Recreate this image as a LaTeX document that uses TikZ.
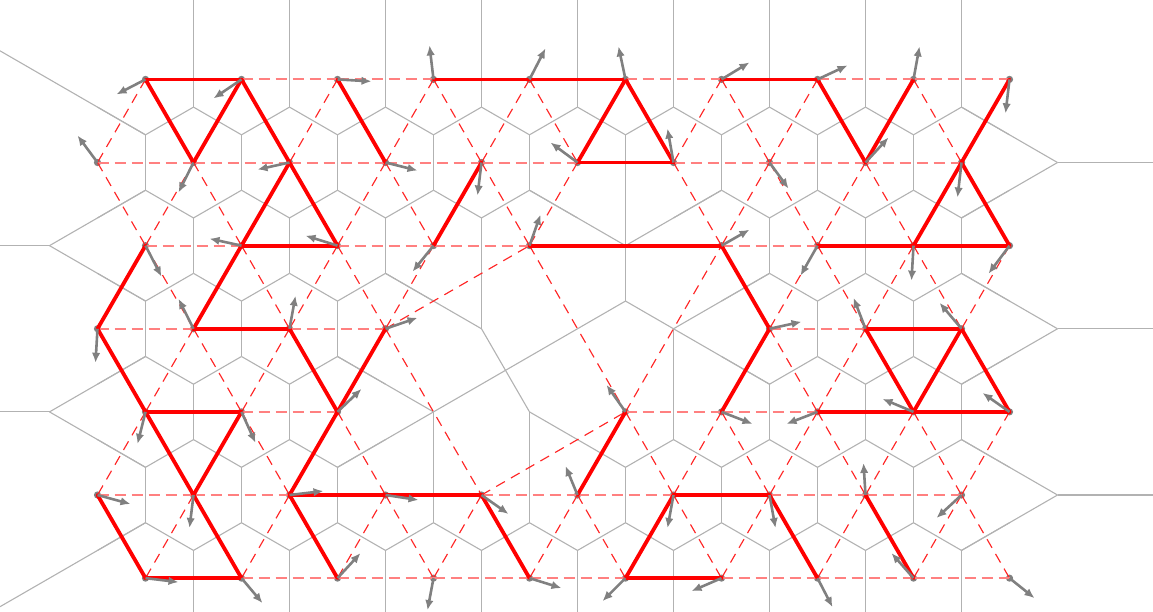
\documentclass[tikz,border=0pt]{standalone}
\usetikzlibrary{arrows.meta}
\newif\ifpres
\newcommand\testpt[2]{\prestrue
  \ifnum#1<0 \presfalse\fi
  \ifnum#1>6 \presfalse\fi
  \ifnum#2<0 \presfalse\fi
  \ifnum#2>19 \presfalse\fi
  \ifcsname vac#1x#2\endcsname\presfalse\fi}
\expandafter\def\csname vac2x11\endcsname{}
\expandafter\def\csname vac3x8\endcsname{}
\expandafter\def\csname vac3x10\endcsname{}
\expandafter\def\csname vac3x12\endcsname{}
\expandafter\def\csname vac4x7\endcsname{}
\expandafter\def\csname vac4x9\endcsname{}
\begin{document}
\begin{tikzpicture}[x=1pt,y=-1pt,
  vor/.style={draw=gray!60,line width=1.1pt},
  del/.style={draw=red!85!white,line width=1.15pt,dash pattern=on 10pt off 7pt},
  delh/.style={draw=red!50!white,line width=2pt,dash pattern=on 11pt off 6pt},
  thk/.style={draw=red,line width=3.8pt,line cap=round},
  spin/.style={draw=gray,line width=2.6pt,-{Latex[length=10pt,width=8.5pt]}},
  site/.style={fill=gray}]
\useasboundingbox (0,0) rectangle (1153,611);
% lattice sites
\foreach \r in {0,...,6}{\foreach \k in {0,...,9}{
  \pgfmathtruncatemacro\X{2*\k+1-mod(\r,2)}
  \testpt{\r}{\X}
  \ifpres\coordinate (p-\r-\X) at ({97.5+48*\X},{79.4+83.12*\r});\fi
}}
% Voronoi: regular hexagon edges between present neighbours
\foreach \r in {0,...,6}{\foreach \k in {0,...,9}{
  \pgfmathtruncatemacro\X{2*\k+1-mod(\r,2)}
  \testpt{\r}{\X}
  \ifpres
    \pgfmathtruncatemacro\Xr{\X+2}
    \pgfmathtruncatemacro\Xa{\X+1}
    \pgfmathtruncatemacro\Xb{\X-1}
    \pgfmathtruncatemacro\rn{\r+1}
    \testpt{\r}{\Xr}\ifpres\draw[vor] (p-\r-\X) ++(48,-27.71) -- ++(0,55.42);\fi
    \testpt{\rn}{\Xa}\ifpres\draw[vor] (p-\r-\X) ++(48,27.71) -- ++(-48,27.71);\fi
    \testpt{\rn}{\Xb}\ifpres\draw[vor] (p-\r-\X) ++(-48,27.71) -- ++(48,27.71);\fi
  \fi
}}
% Voronoi: edges inside the vacancy region and outer rays (shifted with the sites)
\begin{scope}[yshift=-0.4pt]
\foreach \a/\b/\c/\d in {
  529.5/189.83/625.5/245.24, 625.5/134.42/625.5/245.24, 721.5/189.83/625.5/245.24,
  625.5/245.24/625.5/300.65, 625.5/300.65/673.5/328.36, 625.5/300.65/505.5/369.92,
  673.5/328.36/769.5/272.95, 673.5/328.36/769.5/383.77, 673.5/328.36/673.5/439.19,
  505.5/369.92/481.5/328.36, 505.5/369.92/529.5/411.48, 505.5/369.92/433.5/411.48,
  481.5/328.36/385.5/272.95, 481.5/328.36/481.5/217.53,
  433.5/411.48/337.5/356.07, 433.5/411.48/337.5/466.89, 433.5/411.48/433.5/522.31,
  529.5/411.48/529.5/522.31, 529.5/411.48/577.5/439.19,
  145.5/134.42/0/50.42, 145.5/522.31/0/606.31,
  145.5/189.83/49.5/245.24, 145.5/300.65/49.5/245.24, 49.5/245.24/0/245.24,
  145.5/356.07/49.5/411.48, 145.5/466.89/49.5/411.48, 49.5/411.48/0/411.48,
  961.5/106.71/1057.5/162.12, 961.5/217.53/1057.5/162.12, 1057.5/162.12/1153/162.12,
  961.5/272.95/1057.5/328.36, 961.5/383.77/1057.5/328.36, 1057.5/328.36/1153/328.36,
  961.5/439.19/1057.5/494.6, 961.5/550.01/1057.5/494.6, 1057.5/494.6/1153/494.6}
  {\draw[vor] (\a,\b) -- (\c,\d);}
\foreach \k in {0,...,8}{
  \draw[vor] ({193.5+96*\k},-1) -- ({193.5+96*\k},106.71);
  \draw[vor] ({193.5+96*\k},550.01) -- ({193.5+96*\k},612);
}
\end{scope}
% sites
\foreach \r in {0,...,6}{\foreach \k in {0,...,9}{
  \pgfmathtruncatemacro\X{2*\k+1-mod(\r,2)}
  \testpt{\r}{\X}
  \ifpres\fill[site] (p-\r-\X) circle (3.6);\fi
}}
% Delaunay bonds (dashed)
\foreach \r in {0,...,6}{\foreach \k in {0,...,9}{
  \pgfmathtruncatemacro\X{2*\k+1-mod(\r,2)}
  \testpt{\r}{\X}
  \ifpres
    \pgfmathtruncatemacro\Xr{\X+2}
    \pgfmathtruncatemacro\Xa{\X+1}
    \pgfmathtruncatemacro\Xb{\X-1}
    \pgfmathtruncatemacro\rn{\r+1}
    \testpt{\r}{\Xr}\ifpres\draw[delh] (p-\r-\X) -- (p-\r-\Xr);\fi
    \testpt{\rn}{\Xa}\ifpres\draw[del] (p-\r-\X) -- (p-\rn-\Xa);\fi
    \testpt{\rn}{\Xb}\ifpres\draw[del] (p-\r-\X) -- (p-\rn-\Xb);\fi
  \fi
}}
\foreach \a/\b in {3-6/2-9, 2-9/4-11, 3-6/5-8, 5-8/4-11, 4-11/2-13}
  {\draw[del] (p-\a) -- (p-\b);}
\draw[delh] (p-2-9) -- (p-2-13);
% thick bonds
\foreach \a/\b in {0-1/0-3, 0-1/1-2, 0-3/1-2, 0-3/1-4, 1-4/2-5, 1-4/2-3, 2-3/2-5,
  0-5/1-6, 0-7/0-9, 0-9/0-11, 0-11/1-10, 0-11/1-12, 1-10/1-12,
  0-13/0-15, 0-15/1-16, 1-16/0-17,
  0-19/1-18, 1-18/2-17, 1-18/2-19, 2-15/2-17, 2-17/2-19,
  1-8/2-7, 2-9/2-13,
  2-1/3-0, 3-0/4-1, 2-3/3-2, 3-2/3-4, 3-4/4-5, 3-6/4-5,
  2-13/3-14, 3-14/4-13,
  3-16/3-18, 3-16/4-17, 3-18/4-17, 3-18/4-19, 4-15/4-17, 4-17/4-19,
  4-1/4-3, 4-1/5-2, 5-2/6-3, 4-3/5-2, 5-0/6-1, 6-1/6-3,
  4-5/5-4, 5-4/5-6, 5-6/5-8, 5-4/6-5, 5-8/6-9,
  4-11/5-10, 5-12/5-14, 5-12/6-11, 6-11/6-13, 5-14/6-15, 5-16/6-17}
  {\draw[thk] (p-\a) -- (p-\b);}
% spins
\foreach \r/\X/\dx/\dy in {
  0/1/-29/15, 0/3/-28/19, 0/5/34/2, 0/7/-4/-34, 0/9/16/-31, 0/11/-7/-33,
  0/13/28/-17, 0/15/30/-14, 0/17/6/-33, 0/19/-4/34,
  1/0/-20/-27, 1/2/-15/30, 1/4/-32/7, 1/6/32/8, 1/8/-4/33, 1/10/-27/-20,
  1/12/-6/-34, 1/14/19/26, 1/16/23/-25, 1/18/-4/35,
  2/1/16/31, 2/3/-32/-7, 2/5/-32/-10, 2/7/-21/26, 2/9/11/-31, 2/13/28/-16,
  2/15/-17/30, 2/17/-2/35, 2/19/-21/28,
  3/0/-2/34, 3/2/-15/-30, 3/4/6/-33, 3/6/32/-11, 3/14/32/-7, 3/16/-12/-31, 3/18/-22/-26,
  4/1/-8/32, 4/3/14/31, 4/5/24/-23, 4/11/-19/-27, 4/13/31/12, 4/15/-31/12,
  4/17/-31/-13, 4/19/-27/-19,
  5/0/33/9, 5/2/-4/33, 5/4/34/-4, 5/6/33/5, 5/8/27/19, 5/10/-12/-29,
  5/12/-6/33, 5/14/6/33, 5/16/-2/-32, 5/18/-25/23,
  6/1/33/4, 6/3/21/25, 6/5/23/-25, 6/7/-6/32, 6/9/32/10, 6/11/-23/23,
  6/13/-30/13, 6/15/15/29, 6/17/-22/-25, 6/19/25/20}
  {\draw[spin] (p-\r-\X) -- ++(\dx,\dy);}
\end{tikzpicture}
\end{document}
